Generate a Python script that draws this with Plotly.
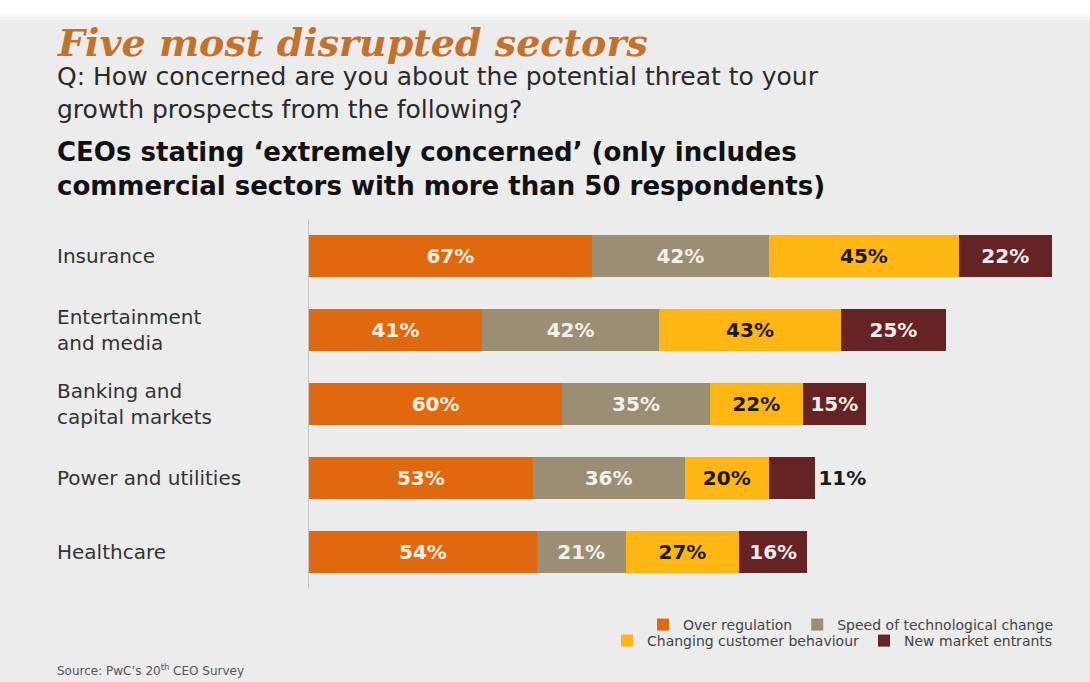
import plotly.graph_objects as go

# ---- data ----
sectors = ["Insurance", "Entertainment<br>and media", "Banking and<br>capital markets",
           "Power and utilities", "Healthcare"]
over_regulation = [67, 41, 60, 53, 54]
speed_tech_change = [42, 42, 35, 36, 21]
changing_customer = [45, 43, 22, 20, 27]
new_entrants = [22, 25, 15, 11, 16]
series_names = ["Over regulation", "Speed of technological change",
                "Changing customer behaviour", "New market entrants"]

# ---- layout geometry (pixels) ----
FW, FH = 1090, 682
L, T, W, H = 309, 219, 771, 370
PX_PER_UNIT = 4.22


def px2x(px):
    return (px - L) / W


def py2y(py):
    return (T + H - py) / H


colors = ["#E0690F", "#9A8E74", "#FFB612", "#652323"]
text_colors = ["#FBEFE0", "#F3F1EA", "#1a1a1a", "#F5ECEC"]
series = [over_regulation, speed_tech_change, changing_customer, new_entrants]

fig = go.Figure()
for i, (name, vals) in enumerate(zip(series_names, series)):
    positions = ["inside"] * len(vals)
    if i == 3:
        positions = ["inside" if v >= 15 else "outside" for v in vals]
    fig.add_trace(go.Bar(
        y=sectors, x=vals, orientation="h", name=name,
        marker=dict(color=colors[i], line=dict(width=0)),
        text=[f"{v}%" for v in vals],
        textposition=positions,
        insidetextanchor="middle",
        insidetextfont=dict(family="DejaVu Sans", size=20, color=text_colors[i]),
        outsidetextfont=dict(family="DejaVu Sans", size=20, color="#1a1a1a"),
        texttemplate="<b>%{text}</b>",
        cliponaxis=False,
        legend="legend" if i < 2 else "legend2",
        hoverinfo="skip",
    ))

fig.update_layout(
    width=FW, height=FH,
    margin=dict(l=L, r=FW - L - W, t=T, b=FH - T - H),
    barmode="stack",
    bargap=0.43,
    paper_bgcolor="#ECECEC",
    plot_bgcolor="#ECECEC",
    showlegend=True,
    xaxis=dict(range=[0, W / PX_PER_UNIT], showgrid=False, zeroline=False,
               showticklabels=False, showline=False, fixedrange=True),
    yaxis=dict(type="category", categoryorder="array", categoryarray=sectors,
               range=[len(sectors) - 0.5, -0.5], showgrid=False, zeroline=False,
               showticklabels=False, showline=True, linecolor="#C4C4C4",
               linewidth=1, ticks=""),
    legend=dict(orientation="h", x=px2x(1058), xanchor="right",
                y=py2y(625), yanchor="middle", bgcolor="rgba(0,0,0,0)",
                font=dict(family="DejaVu Sans", size=14, color="#444"),
                itemwidth=30, traceorder="normal"),
    legend2=dict(orientation="h", x=px2x(1058), xanchor="right",
                 y=py2y(641), yanchor="middle", bgcolor="rgba(0,0,0,0)",
                 font=dict(family="DejaVu Sans", size=14, color="#444"),
                 itemwidth=30, traceorder="normal"),
    shapes=[
        dict(type="rect", xref="paper", yref="paper", x0=px2x(0), x1=px2x(FW),
             y0=py2y(14), y1=py2y(0), fillcolor="#FFFFFF", line=dict(width=0),
             layer="below"),
        dict(type="rect", xref="paper", yref="paper", x0=px2x(0), x1=px2x(FW),
             y0=py2y(20), y1=py2y(14), fillcolor="#F6F6F6", line=dict(width=0),
             layer="below"),
    ],
)

annotations = []
# category labels, left aligned
for s in sectors:
    annotations.append(dict(x=px2x(55), xref="paper", y=s, yref="y",
                            text=s, showarrow=False, xanchor="left", yanchor="middle",
                            align="left",
                            font=dict(family="DejaVu Sans", size=20, color="#333")))


def text_block(txt, py, size, color, family="DejaVu Sans"):
    return dict(x=px2x(55), y=py2y(py), xref="paper", yref="paper", xanchor="left",
                yanchor="middle", showarrow=False, align="left", text=txt,
                font=dict(family=family, size=size, color=color))


annotations += [
    text_block("<b><i>Five most disrupted sectors</i></b>", 42, 38, "#C3722B",
               family="DejaVu Serif"),
    text_block("Q: How concerned are you about the potential threat to your<br>"
               "growth prospects from the following?", 93, 25, "#2a2a2a"),
    text_block("<b>CEOs stating ‘extremely concerned’ (only includes<br>"
               "commercial sectors with more than 50 respondents)</b>", 169, 26, "#111"),
    text_block("Source: PwC’s 20<sup>th</sup> CEO Survey", 670, 12, "#555"),
]
fig.update_layout(annotations=annotations)

fig.write_html("out.html")
